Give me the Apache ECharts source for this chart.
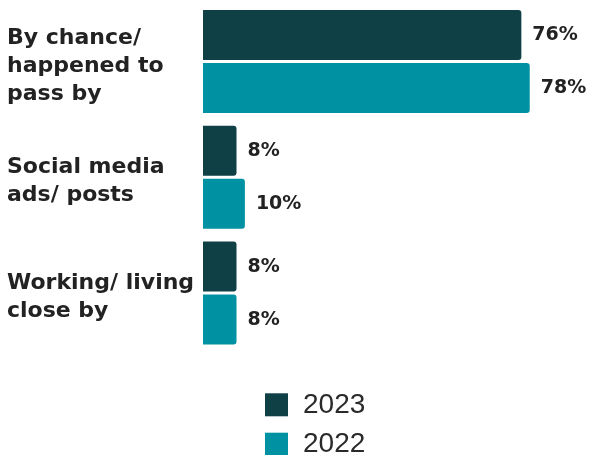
<!DOCTYPE html>
<html>
<head>
<meta charset="utf-8">
<style>
  html, body { margin: 0; padding: 0; background: #ffffff; }
  #chart { width: 594px; height: 455px; }
</style>
<script src="https://cdn.jsdelivr.net/npm/echarts@6/dist/echarts.min.js"></script>
</head>
<body>
<div id="chart"></div>
<script>
// Reasons for visiting, share of respondents (%)
const categories = [
  'By chance/\nhappened to\npass by',
  'Social media\nads/ posts',
  'Working/ living\nclose by'
];
const values2023 = [76, 8, 8];
const values2022 = [78, 10, 8];
const seriesNames = ['2023', '2022'];

const colorDark = '#0e4046';
const colorTeal = '#0092a2';
const labelFont = '"DejaVu Sans", sans-serif';

const chart = echarts.init(document.getElementById('chart'), null, { renderer: 'canvas' });

function barSeries(name, data, color) {
  return {
    name: name,
    type: 'bar',
    data: data,
    barWidth: 50,
    barGap: '6%',
    itemStyle: { color: color, borderRadius: [0, 3, 3, 0] },
    label: {
      show: true,
      position: 'right',
      distance: 11,
      formatter: '{c}%',
      fontFamily: labelFont,
      fontWeight: 700,
      fontSize: 19,
      color: '#222222'
    }
  };
}

// Category label: a thin spacer row above the text lines nudges the block down a little
function categoryLabel(value) {
  return '{gap| }\n' + value.split('\n').map(function (line) {
    return '{t|' + line + '}';
  }).join('\n');
}

chart.setOption({
  animation: false,
  grid: { left: 203, right: 14, top: 3.5, height: 347.5, containLabel: false },
  xAxis: {
    type: 'value',
    min: 0,
    max: 90,
    show: false
  },
  yAxis: {
    type: 'category',
    data: categories,
    inverse: true,
    axisLine: { show: false },
    axisTick: { show: false },
    axisLabel: {
      align: 'left',
      margin: 196,
      formatter: categoryLabel,
      rich: {
        gap: { fontSize: 9, lineHeight: 9 },
        t: {
          fontFamily: labelFont,
          fontWeight: 700,
          fontSize: 22,
          lineHeight: 28,
          color: '#222222'
        }
      }
    }
  },
  legend: {
    data: seriesNames,
    orient: 'vertical',
    left: 265,
    top: 390.8,
    height: 80,
    padding: 0,
    itemWidth: 23,
    itemHeight: 23,
    itemGap: 11.4,
    icon: 'rect',
    textStyle: {
      fontFamily: '"Liberation Sans", Arial, sans-serif',
      fontSize: 28,
      color: '#2a2a2a',
      padding: [0, 0, 0, 10]
    }
  },
  series: [
    barSeries(seriesNames[0], values2023, colorDark),
    barSeries(seriesNames[1], values2022, colorTeal)
  ]
});
</script>
</body>
</html>
